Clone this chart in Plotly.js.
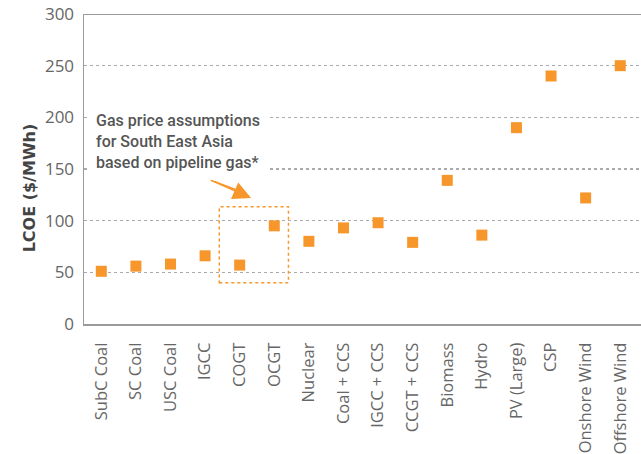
<!DOCTYPE html>
<html>
<head>
<meta charset="utf-8">
<script src="https://cdn.plot.ly/plotly-3.0.1.min.js"></script>
<style>html,body{margin:0;padding:0;background:#fff;}#chart{width:641px;height:454px;}</style>
</head>
<body>
<div id="chart"></div>
<script>
const categories = ["SubC Coal","SC Coal","USC Coal","IGCC","COGT","OCGT","Nuclear","Coal + CCS","IGCC + CCS","CCGT + CCS","Biomass","Hydro","PV (Large)","CSP","Onshore Wind","Offshore Wind"];
const lcoe = [51, 56, 58, 66, 57, 95, 80, 93, 98, 79, 139, 86, 190, 240, 122, 250];
const yTicks = [0, 50, 100, 150, 200, 250, 300];
const noteText = "Gas price assumptions<br>for South East Asia<br>based on pipeline gas*";

const orange = "#F7962A";
const trace = {
  type: "scatter", mode: "markers",
  x: categories, y: lcoe,
  marker: {symbol: "square", size: 11, color: orange},
  hoverinfo: "x+y", showlegend: false
};
const layout = {
  width: 641, height: 454,
  margin: {l: 84, r: 0, t: 14, b: 130},
  paper_bgcolor: "#fff", plot_bgcolor: "#fff",
  font: {family: "Open Sans, sans-serif", color: "#666"},
  xaxis: {
    type: "category", range: [-0.5, 15.6],
    showline: true, linecolor: "#9a9a9a", linewidth: 2,
    showgrid: false, zeroline: false,
    tickangle: -90, ticks: "outside", ticklen: 10, tickcolor: "rgba(0,0,0,0)",
    tickfont: {size: 16.5, color: "#666"}
  },
  yaxis: {
    range: [0, 300], tickvals: yTicks, ticktext: yTicks.map(String),
    showline: true, linecolor: "#9a9a9a", linewidth: 1.5,
    showgrid: true, gridcolor: "#aaaaaa", gridwidth: 1.5, griddash: "dot",
    zeroline: false, ticks: "outside", ticklen: 5, tickcolor: "rgba(0,0,0,0)",
    tickfont: {size: 17, color: "#666"}
  },
  shapes: [
    {type: "line", xref: "paper", yref: "y", x0: 0, x1: 1, y0: 300, y1: 300,
     line: {color: "#9a9a9a", width: 2}},
    {type: "rect", xref: "x", yref: "y", x0: 3.41, x1: 5.41, y0: 40, y1: 113.5,
     line: {color: orange, width: 1.5, dash: "dot"}},
    {type: "line", xref: "x", yref: "y", x0: 3.15, y0: 139.4, x1: 4.2, y1: 126,
     line: {color: orange, width: 1.5}}
  ],
  annotations: [
    {xref: "paper", yref: "paper", x: -0.118, y: 0.44, text: "<b>LCOE ($/MWh)</b>",
     textangle: -90, showarrow: false, font: {size: 16, color: "#444", family: "DejaVu Sans, sans-serif"}},
    {xref: "x", yref: "y", x: -0.405, y: 177, xanchor: "left", yanchor: "middle", align: "left",
     text: noteText, showarrow: false, bgcolor: "#fff", borderpad: 8,
     font: {size: 16, color: "#555", family: "Roboto, sans-serif", weight: 500}},
    {xref: "x", yref: "y", x: 4.33, y: 122, ax: -41, ay: -18, text: "",
     width: 1, height: 1, borderpad: 0, font: {size: 1},
     showarrow: true, arrowhead: 2, arrowsize: 2.4, arrowwidth: 1.5, arrowcolor: orange}
  ]
};
Plotly.newPlot("chart", [trace], layout, {displayModeBar: false, staticPlot: true});
</script>
</body>
</html>
